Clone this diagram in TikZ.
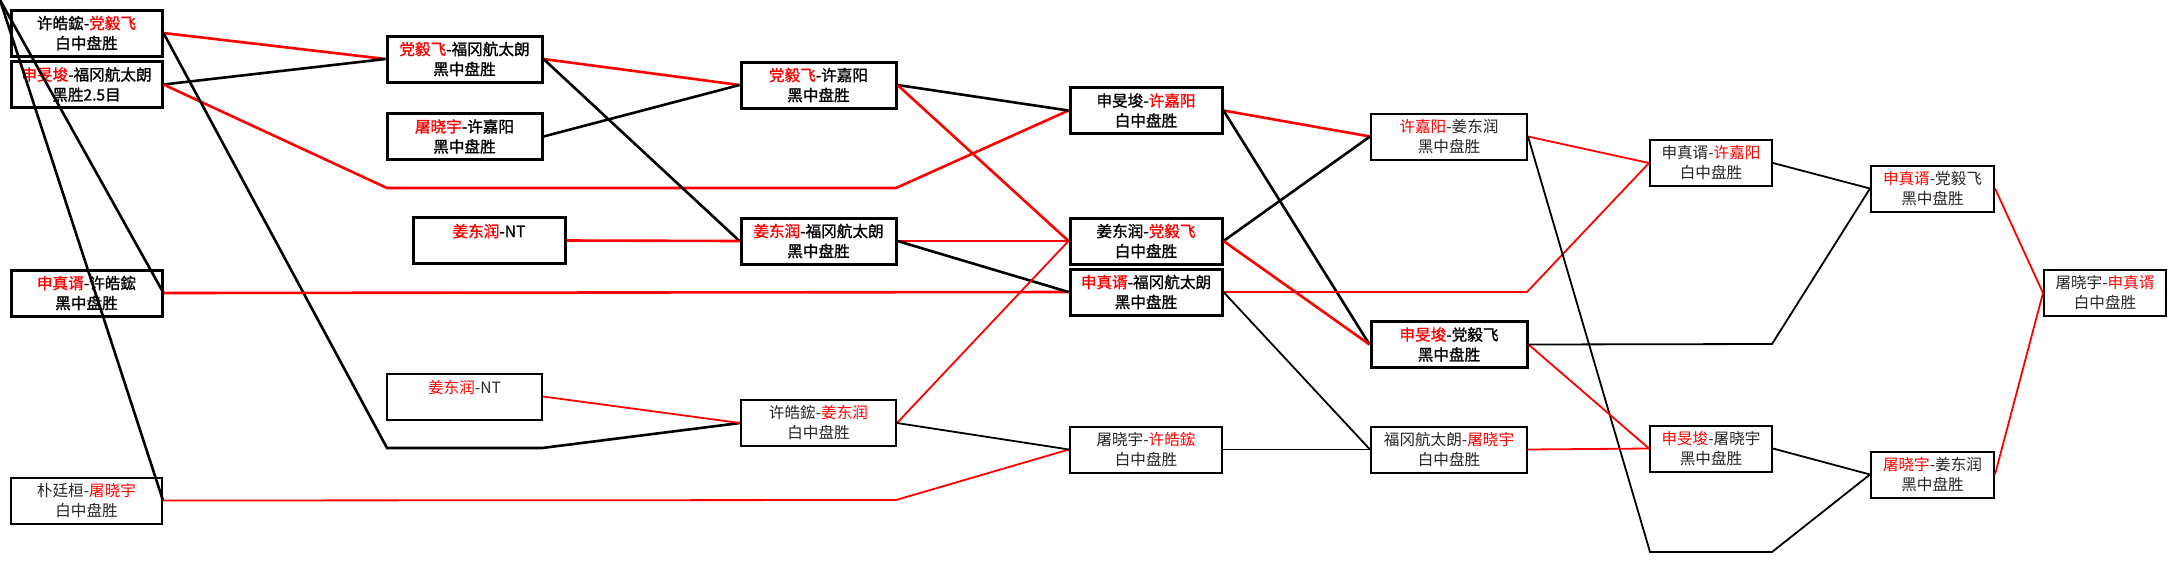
\documentclass[tikz,border=0pt]{standalone}
\usepackage{fontspec}
\setmainfont{Noto Sans CJK SC}
\newfontfamily\heavyFont[FakeBold=1.2]{Noto Sans CJK SC}
\newcommand{\winName}[1]{\textcolor{red}{#1}}
\begin{document}
\begin{tikzpicture}[
    x=0.5pt, y=-0.5pt,
    % Define the style for every match box
    gameBox/.style={
        rectangle,
        draw=black,
        inner sep=0pt,
        minimum height=23pt,
        align=center
    },
    % Played matches get the heavy frame and heavy text
    doneBox/.style={gameBox, line width=1.5pt,
        font=\heavyFont\fontsize{7.8}{10}\selectfont},
    % Later matches get the light frame
    openBox/.style={gameBox, line width=1pt, text=black!85,
        font=\fontsize{7.8}{10}\selectfont},
    % Define the style for the connections
    winLine/.style={draw=red, line width=1.3pt},
    loseLine/.style={draw=black, line width=1.3pt},
    fineLine/.style={line width=0.9pt}
]
    \useasboundingbox (0,0) rectangle (2176,585);

    % --- NODES ---
    % Column 1
    \node[doneBox, minimum width=75.5pt] (MA) at (86.5,33) {许皓鋐-\winName{党毅飞}\\白中盘胜};
    \node[doneBox, minimum width=75.5pt] (MB) at (86.5,84.5) {\winName{申旻埈}-福冈航太朗\\黑胜2.5目};
    \node[doneBox, minimum width=75.5pt] (MH) at (86.5,293) {\winName{申真谞}-许皓鋐\\黑中盘胜};
    \node[openBox, minimum width=75.5pt] (MI) at (86.5,500.5) {朴廷桓-\winName{屠晓宇}\\白中盘胜};

    % Column 2
    \node[doneBox, minimum width=77.5pt] (MC) at (464.5,59) {\winName{党毅飞}-福冈航太朗\\黑中盘胜};
    \node[doneBox, minimum width=77.5pt] (MD) at (464.5,136.5) {\winName{屠晓宇}-许嘉阳\\黑中盘胜};
    \node[doneBox, minimum width=76pt] (MF) at (489,240.5) {\winName{姜东润}-NT\\\mbox{}};
    \node[openBox, minimum width=77.5pt] (MJ) at (464.5,396.5) {\winName{姜东润}-NT\\\mbox{}};

    % Column 3
    \node[doneBox, minimum width=77.5pt] (ME) at (818.5,85) {\winName{党毅飞}-许嘉阳\\黑中盘胜};
    \node[doneBox, minimum width=77.5pt] (MG) at (818.5,241) {\winName{姜东润}-福冈航太朗\\黑中盘胜};
    \node[openBox, minimum width=77.5pt] (MK) at (818.5,423) {许皓鋐-\winName{姜东润}\\白中盘胜};

    % Column 4
    \node[doneBox, minimum width=76pt] (ML) at (1146,110.5) {申旻埈-\winName{许嘉阳}\\白中盘胜};
    \node[doneBox, minimum width=76pt] (MM) at (1146,241) {姜东润-\winName{党毅飞}\\白中盘胜};
    \node[doneBox, minimum width=76pt] (MN) at (1146,292) {\winName{申真谞}-福冈航太朗\\黑中盘胜};
    \node[openBox, minimum width=76pt] (MO) at (1146,449.5) {屠晓宇-\winName{许皓鋐}\\白中盘胜};

    % Column 5
    \node[openBox, minimum width=78pt] (MP) at (1449,136.5) {\winName{许嘉阳}-姜东润\\黑中盘胜};
    \node[doneBox, minimum width=78pt] (MQ) at (1449,344.5) {\winName{申旻埈}-党毅飞\\黑中盘胜};
    \node[openBox, minimum width=78pt] (MR) at (1449,449.5) {福冈航太朗-\winName{屠晓宇}\\白中盘胜};

    % Column 6
    \node[openBox, minimum width=61pt] (MS) at (1711,163) {申真谞-\winName{许嘉阳}\\白中盘胜};
    \node[openBox, minimum width=61pt] (MT) at (1711,448.5) {\winName{申旻埈}-屠晓宇\\黑中盘胜};

    % Column 7
    \node[openBox, minimum width=61.5pt] (MU) at (1932.5,188.5) {\winName{申真谞}-党毅飞\\黑中盘胜};
    \node[openBox, minimum width=61.5pt] (MV) at (1932.5,474.5) {\winName{屠晓宇}-姜东润\\黑中盘胜};

    % Column 8 (final)
    \node[openBox, minimum width=61pt] (MW) at (2105,293) {屠晓宇-\winName{申真谞}\\白中盘胜};

    % --- BEND POINTS ---
    \coordinate (corner) at (0,0);
    \coordinate (bendB1) at (387,188);
    \coordinate (bendB2) at (896,188);
    \coordinate (bendA1) at (387,448);
    \coordinate (bendA2) at (542,448);
    \coordinate (bendI) at (896,500);
    \coordinate (bendN) at (1527,292);
    \coordinate (bendP1) at (1650,552);
    \coordinate (bendP2) at (1772,552);
    \coordinate (bendQ) at (1772,344);

    % --- EDGES ---
    % Lines running in from the top left corner
    \draw[loseLine] (corner) -- (MH.east);
    \draw[loseLine] (corner) -- (MI.east);

    % Column 1 to the right
    \draw[winLine] (MA.east) -- (MC.west);
    \draw[loseLine] (MB.east) -- (MC.west);
    \draw[winLine] (MB.east) -- (bendB1) -- (bendB2) -- (ML.west);
    \draw[loseLine] (MA.east) -- (bendA1) -- (bendA2) -- (MK.west);
    \draw[winLine] (MH.east) -- (MN.west);
    \draw[winLine, fineLine] (MI.east) -- (bendI) -- (MO.west);

    % Column 2 to column 3
    \draw[winLine] (MC.east) -- (ME.west);
    \draw[loseLine] (MD.east) -- (ME.west);
    \draw[loseLine] (MC.east) -- (MG.west);
    \draw[winLine] (MF.east) -- (MG.west);
    \draw[winLine, fineLine] (MJ.east) -- (MK.west);

    % Column 3 to column 4
    \draw[loseLine] (ME.east) -- (ML.west);
    \draw[winLine] (ME.east) -- (MM.west);
    \draw[winLine] (MG.east) -- (MM.west);
    \draw[loseLine] (MG.east) -- (MN.west);
    \draw[winLine, fineLine] (MK.east) -- (MM.west);
    \draw[loseLine, fineLine] (MK.east) -- (MO.west);

    % Column 4 to column 5
    \draw[winLine] (ML.east) -- (MP.west);
    \draw[loseLine] (ML.east) -- (MQ.west);
    \draw[loseLine] (MM.east) -- (MP.west);
    \draw[winLine] (MM.east) -- (MQ.west);
    \draw[winLine, fineLine] (MN.east) -- (bendN) -- (MS.west);
    \draw[loseLine, fineLine] (MN.east) -- (MR.west);
    \draw[loseLine, fineLine] (MO.east) -- (MR.west);

    % Column 5 to column 6
    \draw[winLine, fineLine] (MP.east) -- (MS.west);
    \draw[loseLine, fineLine] (MP.east) -- (bendP1) -- (bendP2) -- (MV.west);
    \draw[winLine, fineLine] (MQ.east) -- (MT.west);
    \draw[loseLine, fineLine] (MQ.east) -- (bendQ) -- (MU.west);
    \draw[winLine, fineLine] (MR.east) -- (MT.west);

    % Column 6 to the final
    \draw[loseLine, fineLine] (MS.east) -- (MU.west);
    \draw[loseLine, fineLine] (MT.east) -- (MV.west);
    \draw[winLine, fineLine] (MU.east) -- (MW.west);
    \draw[winLine, fineLine] (MV.east) -- (MW.west);

\end{tikzpicture}
\end{document}
